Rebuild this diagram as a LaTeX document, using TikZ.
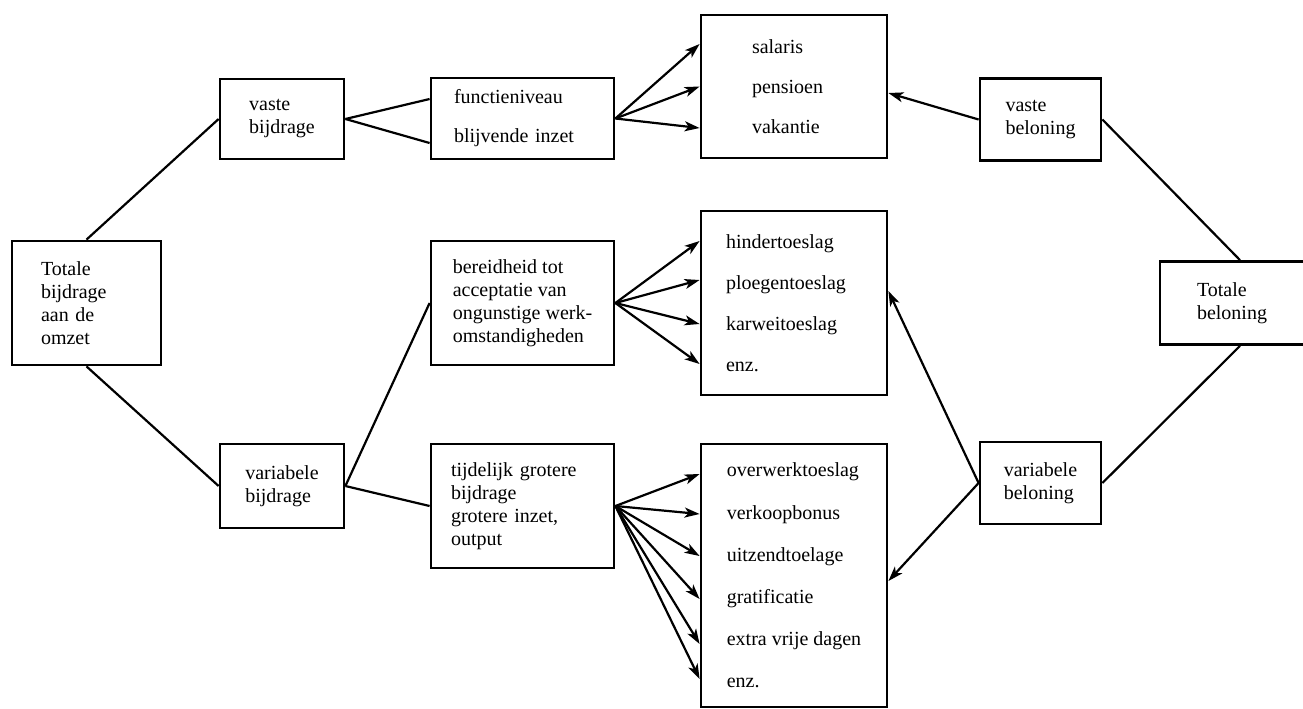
\documentclass[tikz,border=0pt]{standalone}
\usepackage{fontspec}
\setmainfont{Liberation Serif}
\usepackage{tikz}
\usetikzlibrary{arrows.meta,positioning}
\tikzset{
  font={\fontsize{10pt}{11.5pt}\selectfont}
}
\tikzstyle{line}=[draw, line width=1.1pt]
\tikzstyle{arr}=[line, -{Stealth[length=7.5pt,width=5pt,inset=2pt]}]
\tikzstyle{block}=[draw, rectangle, line width=1.4pt, align=left, on grid]

\begin{document}
\begin{tikzpicture}[x=0.5pt, y=-0.5pt]
\useasboundingbox (0,0) rectangle (1303,708);

%% bijdrage
\node[block,minimum width=74.5pt,minimum height=62pt,text width=45.5pt] (tot_bij) at (86.5,303) {Totale\\bijdrage\\aan de\\omzet};
\node[block,minimum width=62pt,minimum height=40pt,above right=92pt and 97.75pt of tot_bij] (vast_bij) {vaste\\bijdrage};
\node[block,minimum width=62pt,minimum height=42pt,below right=91.5pt and 97.75pt of tot_bij] (var_bij) {variabele\\bijdrage};

\node[block,minimum width=91.5pt,minimum height=62pt,right=218pt of tot_bij] (bereid) {bereidheid tot\\acceptatie van\\ongunstige werk-\\omstandigheden};
\node[block,minimum width=91.5pt,minimum height=40.5pt,text width=68.5pt,above=92.25pt of bereid] (functie) {functieniveau\\[8pt]blijvende inzet};
\node[block,minimum width=91.5pt,minimum height=62pt,text width=71.5pt,below=101.5pt of bereid] (tijdelijk) {tijdelijk grotere\\bijdrage\\grotere inzet,\\output};

%% beloningen
\node[block,minimum width=93pt,minimum height=92pt,text width=68pt,right=135.75pt of bereid] (hinder) {hindertoeslag\\[9pt]ploegentoeslag\\[9pt]karweitoeslag\\[9pt]enz.};
\node[block,minimum width=93pt,minimum height=71.5pt,text width=42pt,above=108.25pt of hinder] (salaris) {salaris\\[8.5pt]pensioen\\[8.5pt]vakantie};
\node[block,minimum width=93pt,minimum height=131.5pt,below=136.25pt of hinder] (overwerk) {overwerktoeslag\\[9.6pt]verkoopbonus\\[9.6pt]uitzendtoelage\\[9.6pt]gratificatie\\[9.6pt]extra vrije dagen\\[9.6pt]enz.};

\node[block,minimum width=80pt,minimum height=41.5pt,text width=43pt,right=223pt of hinder] (tot_bel) {Totale\\beloning};
\node[block,minimum width=60.5pt,minimum height=41pt,above left=91.75pt and 99.75pt of tot_bel] (vast_bel) {vaste\\beloning};
\node[block,minimum width=60.5pt,minimum height=41pt,below left=90pt and 99.75pt of tot_bel] (var_bel) {variabele\\beloning};

\draw[line] (tot_bij.north) -- (vast_bij.west);
\draw[line] (tot_bij.south) -- (var_bij.west);
\draw[line] (vast_bij.east) -- ([yshift=9.75pt]functie.west);
\draw[line] (vast_bij.east) -- ([yshift=-12.25pt]functie.west);
\draw[line] (var_bij.east) -- (bereid.west);
\draw[line] (var_bij.east) -- (tijdelijk.west);

\foreach \s in {21.25,0,-20.75}
  \draw[arr] (functie.east) -- ([yshift=\s pt]salaris.west);
\foreach \s in {31,11.5,-10.5,-30.5}
  \draw[arr] (bereid.east) -- ([yshift=\s pt]hinder.west);
\foreach \s in {50.75,30.75,9.75,-11.75,-34.25,-51.75}
  \draw[arr] (tijdelijk.east) -- ([yshift=\s pt]overwerk.west);

\draw[arr] (vast_bel.west) -- ([yshift=-3.25pt]salaris.east);
\draw[line] (vast_bel.east) -- (tot_bel.north);
\draw[arr] (var_bel.west) -- ([yshift=6pt]hinder.east);
\draw[arr] (var_bel.west) -- ([yshift=-2.75pt]overwerk.east);
\draw[line] (var_bel.east) -- (tot_bel.south);

\end{tikzpicture}
\end{document}
